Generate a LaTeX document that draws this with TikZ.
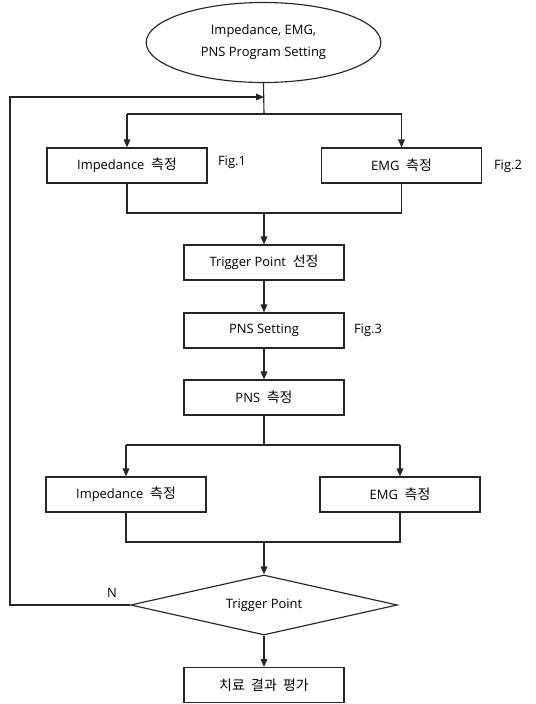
\documentclass[tikz,border=0pt]{standalone}
\usepackage{fontspec}
\setmainfont{Open Sans}
\newfontfamily\kr[Scale=1.08]{Noto Sans CJK KR}
\usetikzlibrary{shapes.geometric,arrows.meta}
\begin{document}
\begin{tikzpicture}[x=0.75pt,y=-0.75pt,
  font=\fontsize{9.7}{12}\selectfont,
  line/.style={draw=black!85, line width=0.85pt},
  arr/.style={line, -{Triangle[length=6pt,width=5pt]}},
  box/.style={draw=black!85, line width=0.85pt, rectangle, minimum width=120pt, minimum height=26.25pt, inner sep=0pt},
  lbl/.style={inner sep=0pt}]
\useasboundingbox (0,0) rectangle (536,704);
\fill[white] (0,0) rectangle (536,704);

\node[draw=black!85, line width=0.85pt, ellipse, minimum width=176pt, minimum height=60pt, inner sep=0pt, align=center, font=\fontsize{9.7}{16.5}\selectfont] (ell) at (263.5,42.5) {Impedance, EMG,\\PNS Program Setting};

\node[box] (imp1) at (127,165.5) {Impedance\ \ {\kr 측정}};
\node[box] (emg1) at (401.5,165.5) {EMG\ \ {\kr 측정}};
\node[lbl] (f1) at (232,162) {Fig.1};
\node[lbl] (f2) at (508,166) {Fig.2};

\node[box] (trig) at (264,262.5) {Trigger Point\ \ {\kr 선정}};
\node[box] (pset) at (264,330.5) {PNS Setting};
\node[lbl] (f3) at (368,330) {Fig.3};
\node[box] (pmeas) at (264,397.5) {PNS\ \ {\kr 측정}};

\node[box] (imp2) at (126,494.5) {Impedance\ \ {\kr 측정}};
\node[box] (emg2) at (400,494.5) {EMG\ \ {\kr 측정}};

\node[draw=black!85, line width=0.85pt, diamond, aspect=4.45, minimum width=200pt, minimum height=45pt, inner sep=0pt] (dia) at (264,605) {Trigger Point};
\node[lbl] (n) at (112,593) {N};

\node[box] (final) at (264,685) {\kr 치료\ \ 결과\ \ 평가};

% coordinates
\coordinate (j0) at (264,114);
\coordinate (j0l) at (127,114);
\coordinate (j0r) at (401.5,114);
\coordinate (m1l) at (127,213);
\coordinate (m1r) at (401.5,213);
\coordinate (m1) at (264,213);
\coordinate (j1) at (264,445);
\coordinate (j1l) at (126,445);
\coordinate (j1r) at (400,445);
\coordinate (m2l) at (126,542);
\coordinate (m2r) at (400,542);
\coordinate (m2) at (264,542);
\coordinate (lp1) at (10,605);
\coordinate (lp2) at (10,97);
\coordinate (lp3) at (264,97);

% connectors
\draw[line] (ell.south) -- (j0);
\draw[line] (j0l) -- (j0r);
\draw[arr] (j0l) -- (imp1.north);
\draw[arr] (j0r) -- (emg1.north);
\draw[line] (imp1.south) -- (m1l) -- (m1r) -- (emg1.south);
\draw[arr] (m1) -- (trig.north);
\draw[arr] (trig.south) -- (pset.north);
\draw[arr] (pset.south) -- (pmeas.north);
\draw[line] (pmeas.south) -- (j1);
\draw[line] (j1l) -- (j1r);
\draw[arr] (j1l) -- (imp2.north);
\draw[arr] (j1r) -- (emg2.north);
\draw[line] (imp2.south) -- (m2l) -- (m2r) -- (emg2.south);
\draw[arr] (m2) -- (dia.north);
\draw[arr] (dia.south) -- (final.north);
\draw[arr] (dia.west) -- (lp1) -- (lp2) -- (lp3);
\end{tikzpicture}
\end{document}
